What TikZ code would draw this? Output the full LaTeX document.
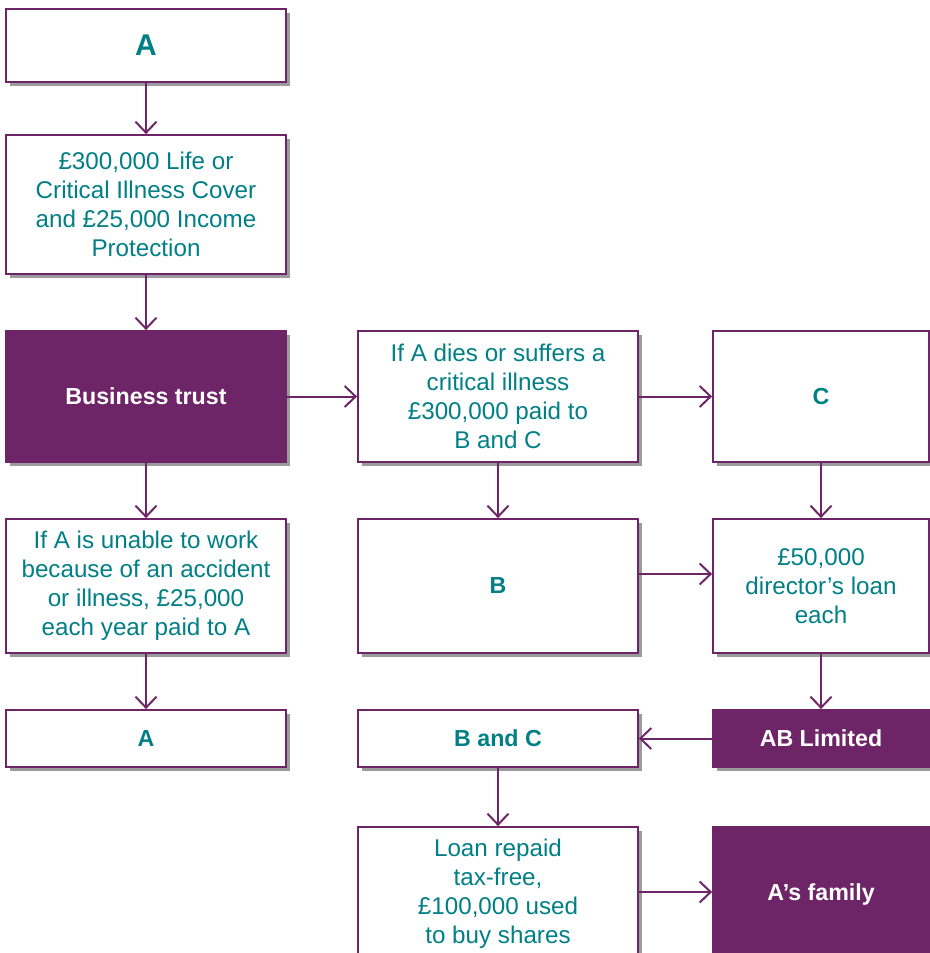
\documentclass[tikz,border=0pt]{standalone}
\usepackage{fontspec}
\setmainfont{Liberation Sans}
\usetikzlibrary{arrows.meta, shadows}
\definecolor{plum}{RGB}{110,37,104}
\definecolor{tealtxt}{RGB}{0,128,134}
\definecolor{shadowgray}{RGB}{155,155,158}

\begin{document}
\begin{tikzpicture}[x=0.5pt, y=-0.5pt,
	box/.style={draw=plum, line width=0.9pt, fill=white, text=tealtxt, align=center, inner sep=0pt,
		font=\fontsize{12.1}{14.5}\selectfont,
		drop shadow={shadow xshift=2pt, shadow yshift=-2.2pt, fill=shadowgray, opacity=1}},
	label/.style={box, font=\fontsize{11.6}{14.5}\selectfont\bfseries},
	dark/.style={label, fill=plum, text=white},
	wide/.style={minimum width=140pt},
	narrow/.style={minimum width=108pt},
	conn/.style={draw=plum, line width=1pt, -{Straight Barb[length=5.5pt, width=10.5pt]}}]
	%%% Help Lines
%	\draw [thin, help lines] (0,0) grid[step=50] (930,953);
	\useasboundingbox (0,0) rectangle (930,953);
	
	%%% Colonna sinistra
	\node [label, wide, minimum height=36.5pt, font=\fontsize{15}{17}\selectfont\bfseries] (a1) at (146,45.5) {A};
	\node [box, wide, minimum height=69.5pt] (cover) at (146,204.5) {£300,000 Life or\\Critical Illness Cover\\and £25,000 Income\\Protection};
	\node [dark, wide, minimum height=65.5pt] (trust) at (146,396.5) {Business trust};
	\node [box, wide, minimum height=67pt] (unable) at (146,586) {If A is unable to work\\because of an accident\\or illness, £25,000\\each year paid to A};
	\node [label, wide, minimum height=28.5pt] (a2) at (146,738.5) {A};
	
	%%% Colonna centrale
	\node [box, wide, minimum height=65.5pt] (dies) at (498,396.5) {If A dies or suffers a\\critical illness\\£300,000 paid to\\B and C};
	\node [label, wide, minimum height=67pt] (b) at (498,586) {B};
	\node [label, wide, minimum height=28.5pt] (bc) at (498,738.5) {B and C};
	\node [box, wide, minimum height=67pt] (repaid) at (498,894) {Loan repaid\\tax-free,\\£100,000 used\\to buy shares};
	
	%%% Colonna destra
	\node [label, narrow, minimum height=65.5pt] (c) at (821,396.5) {C};
	\node [box, narrow, minimum height=67pt] (loan) at (821,586) {£50,000\\director’s loan\\each};
	\node [dark, narrow, minimum height=28.5pt] (ablim) at (821,738.5) {AB Limited};
	\node [dark, narrow, minimum height=67pt] (family) at (821,894) {A’s family};
	
	%%% Frecce
	\draw [conn] (a1) -- (cover);
	\draw [conn] (cover) -- (trust);
	\draw [conn] (trust) -- (unable);
	\draw [conn] (unable) -- (a2);
	\draw [conn] (trust) -- (dies);
	\draw [conn] (dies) -- (c);
	\draw [conn] (dies) -- (b);
	\draw [conn] (c) -- (loan);
	\draw [conn] ([yshift=6pt]b.east) -- ([yshift=6pt]loan.west);
	\draw [conn] (loan) -- (ablim);
	\draw [conn] (ablim) -- (bc);
	\draw [conn] (bc) -- (repaid);
	\draw [conn] ([yshift=1pt]repaid.east) -- ([yshift=1pt]family.west);
\end{tikzpicture}
\end{document}
